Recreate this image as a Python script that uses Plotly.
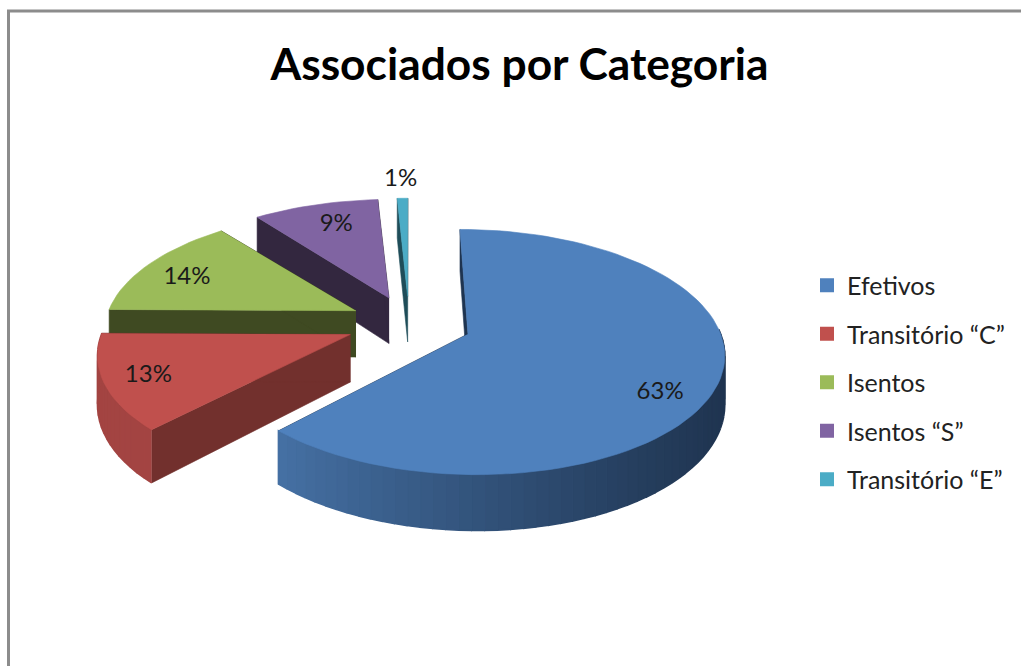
import math
import plotly.graph_objects as go

categories = ["Efetivos", "Transitório “C”", "Isentos", "Isentos “S”", "Transitório “E”"]
shares = [63, 13, 14, 9, 1]
top_colors = ["#4F81BD", "#C0504D", "#9BBB59", "#8064A2", "#4BACC6"]
wall_colors = ["#1F3450", "#72302D", "#3F4A22", "#33273F", "#1F4D59"]
label_radius = [0.80, 0.72, 0.70, 0.62, 1.20]
label_nudge = [(-5, 23), (-25, 8), (-21, 1), (-5, -12), (0, -2)]
slice_shift = [(7, 2), (-5, 2), (-2, 0), (0, 0), (1, 0)]
slice_scale = [0.975, 0.96, 0.98, 1.0, 1.0]
edge_warp_deg = [(-0.3, -3), (-3, -3), (-3, -3), (-1, 0), (0.8, 0)]
rim_slices = [0, 1]
title_text = "Associados por Categoria"

W, H = 1021, 666
CX, CY, A, B, K = 408, 322, 256, 120, 0.15
EXPLODE, DEPTH = 0.22, 47


def project(u, v, drop=0.0, shift=(0, 0)):
    s = 1 / (1 - K * v)
    return CX + A * u * s + shift[0], CY + B * v * s + drop * s + shift[1]


def mix(c1, c2, t):
    p = [int(c1[i:i + 2], 16) for i in (1, 3, 5)]
    q = [int(c2[i:i + 2], 16) for i in (1, 3, 5)]
    return "#%02x%02x%02x" % tuple(round(a + (b - a) * t) for a, b in zip(p, q))


fig = go.Figure()


def poly(pts, color, width=0.6):
    fig.add_trace(go.Scatter(
        x=[p[0] for p in pts], y=[p[1] for p in pts], mode="lines", fill="toself",
        fillcolor=color, line=dict(color=color, width=width), hoverinfo="skip",
        showlegend=False))


# slice angles from the shares
edges = [0.0]
for v in shares:
    edges.append(edges[-1] + v / sum(shares) * 2 * math.pi)

text_x, text_y = [], []
for i in reversed(range(len(shares))):
    a0 = edges[i] + math.radians(edge_warp_deg[i][0])
    a1 = edges[i + 1] + math.radians(edge_warp_deg[i][1])
    mid = (a0 + a1) / 2
    ox, oy = EXPLODE * math.sin(mid), -EXPLODE * math.cos(mid)
    n = max(4, int((a1 - a0) / math.radians(2.5)))
    ang = [a0 + (a1 - a0) * k / n for k in range(n + 1)]
    r = slice_scale[i]
    rimpts = [(ox + r * math.sin(a), oy - r * math.cos(a)) for a in ang]
    apex = (ox, oy)
    sh = slice_shift[i]
    top, wall = top_colors[i], wall_colors[i]
    # radial walls
    for end in (rimpts[0], rimpts[-1]):
        poly([project(*apex, 0, sh), project(*end, 0, sh), project(*end, DEPTH, sh), project(*apex, DEPTH, sh)], wall)
    # rim, shaded left to right
    if i in rim_slices:
        for k in range(n):
            p, q = rimpts[k], rimpts[k + 1]
            if math.cos(ang[k]) > 0.05:
                continue
            x_mid = project(*p, 0, sh)[0]
            t = min(1, max(0, (x_mid - 276) / (724 - 276))) if i == 0 else 0.08
            shade = mix(mix(top, "#000000", 0.12), wall, t ** 0.9)
            poly([project(*p, 0, sh), project(*q, 0, sh), project(*q, DEPTH, sh), project(*p, DEPTH, sh)], shade, width=1.6)
    poly([project(*apex, 0, sh)] + [project(*p, 0, sh) for p in rimpts], top)
    lx, ly = project(ox + label_radius[i] * math.sin(mid), oy - label_radius[i] * math.cos(mid))
    text_x.append(lx + label_nudge[i][0])
    text_y.append(ly + label_nudge[i][1])

# percentage labels
fig.add_trace(go.Scatter(
    x=text_x, y=text_y, mode="text", text=[f"{v}%" for v in reversed(shares)],
    textfont=dict(family="Lato", size=24, color="#1a1a1a"), hoverinfo="skip", showlegend=False))

# legend entries
for name, color in zip(categories, top_colors):
    fig.add_trace(go.Scatter(
        x=[None], y=[None], mode="markers", name=name, legendgroup=name,
        marker=dict(symbol="square", size=14, color=color)))

fig.update_layout(
    width=W, height=H, margin=dict(l=0, r=0, t=0, b=0),
    paper_bgcolor="white", plot_bgcolor="white",
    xaxis=dict(range=[0, W], visible=False, fixedrange=True),
    yaxis=dict(range=[H, 0], visible=False, fixedrange=True),
    title=dict(text=f"<b>{title_text}</b>", x=519.5 / W, xanchor="center", y=1 - 64 / H, yanchor="middle",
               font=dict(family="Lato", size=44.3, color="black")),
    legend=dict(x=807 / W, y=1 - 262.5 / H, xanchor="left", yanchor="top", tracegroupgap=13,
                font=dict(family="Lato", size=25, color="#222222"), itemwidth=30,
                bgcolor="rgba(0,0,0,0)"),
    shapes=[dict(type="line", xref="x", yref="y", x0=8.5, x1=8.5, y0=11, y1=666, line=dict(color="#8c8c8c", width=3)),
            dict(type="line", xref="x", yref="y", x0=7, x1=1021, y0=11, y1=11, line=dict(color="#8c8c8c", width=3))],
)
fig.write_html("out.html", config=dict(displayModeBar=False),
               post_script="document.body.style.margin='0';document.documentElement.style.overflow='hidden';")
